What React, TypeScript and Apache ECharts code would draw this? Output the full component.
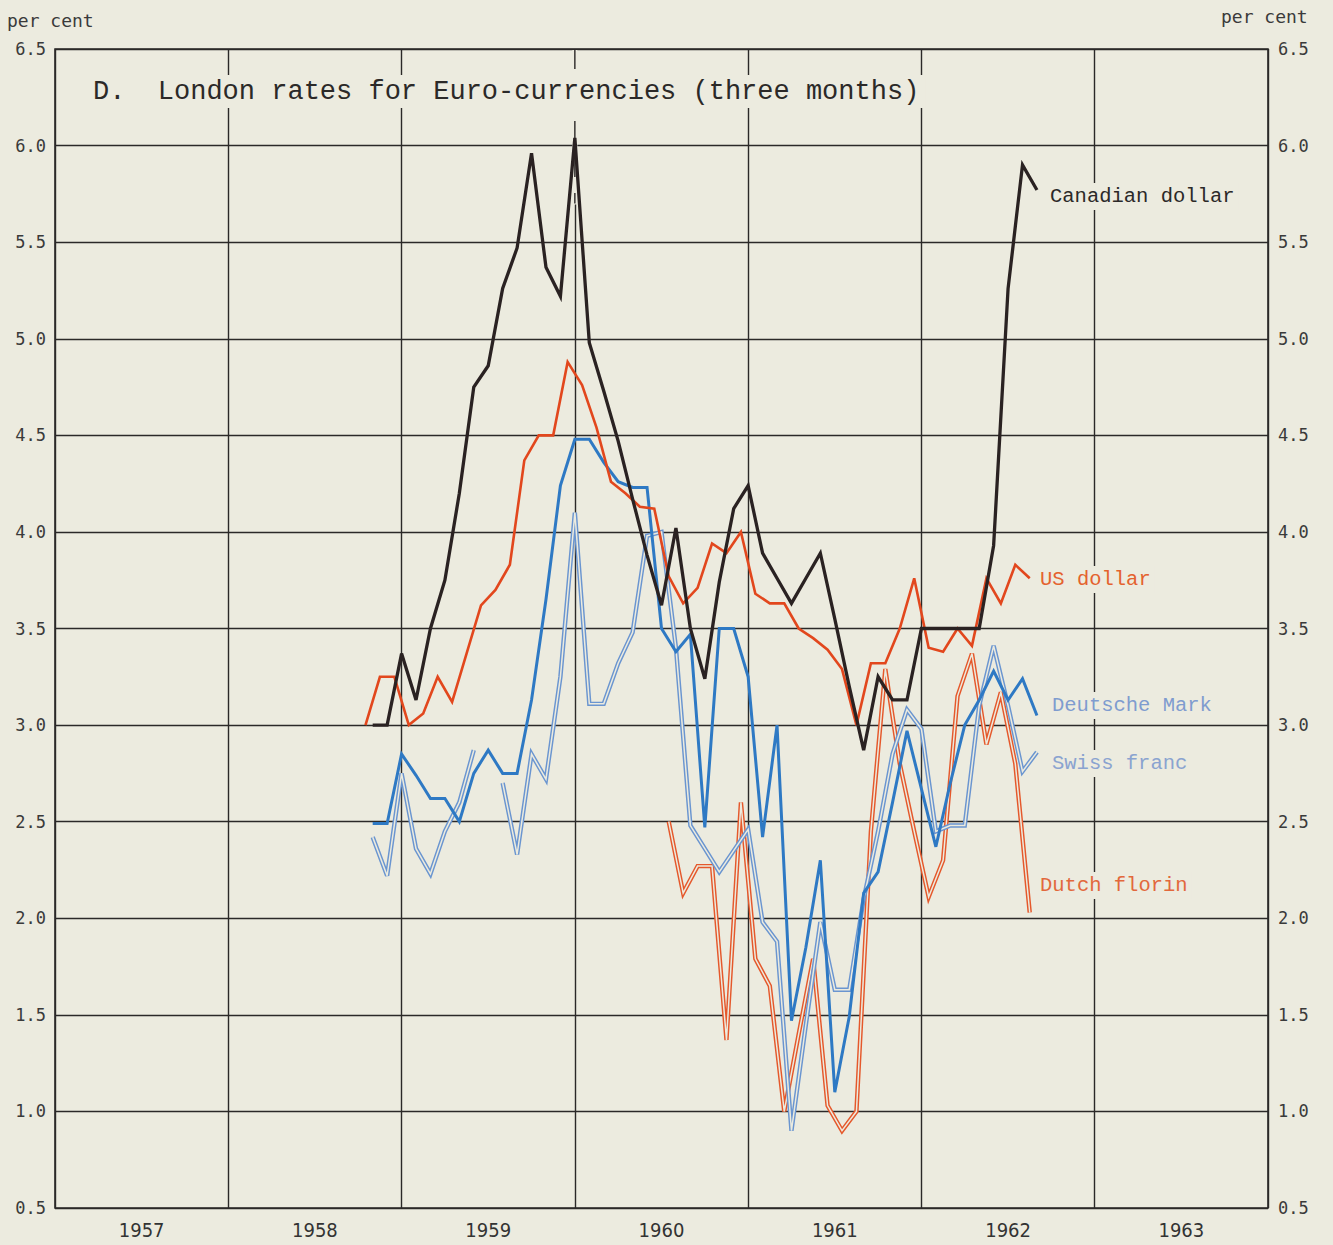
import React, { useEffect, useRef } from "react";
import * as echarts from "echarts";

// ---- data (months counted from January 1958; plotted at month ends) ----
const yearLabels = ["1957", "1958", "1959", "1960", "1961", "1962", "1963"];

const canadianStart = 10;
const canadianDollar = [
  3.0, 3.0, 3.37, 3.13, 3.5, 3.75, 4.2, 4.75, 4.86, 5.26, 5.47, 5.96, 5.37, 5.22,
  6.04, 4.98, 4.73, 4.47, 4.17, 3.88, 3.62, 4.02, 3.5, 3.24, 3.74, 4.12, 4.24,
  3.89, 3.76, 3.63, 3.76, 3.89, 3.55, 3.2, 2.87, 3.25, 3.13, 3.13, 3.5, 3.5, 3.5,
  3.5, 3.5, 3.93, 5.26, 5.9, 5.77,
];

const usStart = 9.5;
const usDollar = [
  3.0, 3.25, 3.25, 3.0, 3.06, 3.25, 3.12, 3.37, 3.62, 3.7, 3.83, 4.37, 4.5, 4.5,
  4.88, 4.76, 4.54, 4.26, 4.2, 4.13, 4.12, 3.77, 3.63, 3.71, 3.94, 3.89, 4.0,
  3.68, 3.63, 3.63, 3.5, 3.45, 3.39, 3.29, 3.0, 3.32, 3.32, 3.5, 3.76, 3.4, 3.38,
  3.5, 3.41, 3.76, 3.63, 3.83, 3.76,
];

const markStart = 10;
const deutscheMark = [
  2.49, 2.49, 2.85, 2.74, 2.62, 2.62, 2.5, 2.75, 2.87, 2.75, 2.75, 3.13, 3.65,
  4.24, 4.48, 4.48, 4.36, 4.26, 4.23, 4.23, 3.5, 3.38, 3.47, 2.47, 3.5, 3.5, 3.25,
  2.42, 3.0, 1.47, 1.85, 2.3, 1.1, 1.49, 2.13, 2.24, 2.6, 2.97, 2.67, 2.37, 2.7,
  3.0, 3.13, 3.28, 3.13, 3.24, 3.05,
];

const swissStart = 10;
const swissFranc: (number | null)[] = [
  2.42, 2.22, 2.75, 2.36, 2.23, 2.45, 2.6, 2.87, null, 2.7, 2.33, 2.85, 2.72,
  3.25, 4.1, 3.11, 3.11, 3.32, 3.48, 3.98, 4.0, 3.4, 2.48, 2.36, 2.24, 2.35, 2.46,
  1.98, 1.88, 0.9, 1.45, 1.98, 1.63, 1.63, 2.1, 2.45, 2.85, 3.08, 2.98, 2.45,
  2.48, 2.48, 3.1, 3.41, 3.1, 2.76, 2.86,
];

const florinStart = 30.5;
const dutchFlorin = [
  2.5, 2.13, 2.27, 2.27, 1.37, 2.6, 1.79, 1.65, 1.0, 1.4, 1.79, 1.03, 0.9, 1.0,
  2.45, 3.29, 2.8, 2.45, 2.11, 2.3, 3.15, 3.37, 2.9, 3.17, 2.8, 2.03,
];

const BG = "#ecebdf";
const INK = "#2b2928";

function toPoints(start: number, values: (number | null)[]) {
  return values.map((v, i) => [1958 + (start + i) / 12, v === null ? "-" : v]);
}

function lineSeries(name: string, data: any[], color: string, width: number, z: number) {
  return {
    name,
    type: "line",
    xAxisIndex: 0,
    yAxisIndex: 0,
    data,
    symbol: "none",
    connectNulls: false,
    z,
    lineStyle: { color, width, cap: "butt", join: "miter" },
  };
}

export default function App() {
  const ref = useRef<HTMLDivElement>(null);

  useEffect(() => {
    document.body.style.margin = "0";
    const chart = echarts.init(ref.current!, null, { renderer: "svg" });

    const tickFont = "'DejaVu Sans Mono', monospace";
    const mono = "'Liberation Mono', 'Courier New', monospace";

    const option: any = {
      animation: false,
      backgroundColor: BG,
      grid: {
        left: 55,
        right: 65,
        top: 49,
        bottom: 37,
        show: true,
        borderColor: INK,
        borderWidth: 1.6,
      },
      xAxis: [
        {
          type: "value",
          min: 1957,
          max: 1964,
          interval: 1,
          axisLabel: { show: false },
          axisTick: { show: false },
          axisLine: { show: false },
          splitLine: { show: true, lineStyle: { color: INK, width: 1.4 } },
        },
        {
          type: "category",
          data: yearLabels,
          position: "bottom",
          boundaryGap: true,
          axisLine: { show: false },
          axisTick: { show: false },
          splitLine: { show: false },
          axisLabel: {
            color: "#333",
            fontSize: 20,
            fontFamily: "'DejaVu Sans Condensed', 'Roboto', sans-serif",
            margin: 12,
          },
        },
      ],
      yAxis: [
        {
          type: "value",
          min: 0.5,
          max: 6.5,
          interval: 0.5,
          position: "left",
          axisLine: { show: false },
          axisTick: { show: false },
          splitLine: { show: true, lineStyle: { color: INK, width: 1.4 } },
          axisLabel: {
            formatter: (v: number) => v.toFixed(1),
            color: "#3a3a3a",
            fontSize: 17,
            fontFamily: tickFont,
            margin: 9,
          },
        },
        {
          type: "value",
          min: 0.5,
          max: 6.5,
          interval: 0.5,
          position: "right",
          axisLine: { show: false },
          axisTick: { show: false },
          splitLine: { show: false },
          axisLabel: {
            formatter: (v: number) => v.toFixed(1),
            color: "#3a3a3a",
            fontSize: 17,
            fontFamily: tickFont,
            margin: 10,
          },
        },
      ],
      series: [
        lineSeries("Dutch florin", toPoints(florinStart, dutchFlorin), "#e5582b", 4.4, 2),
        lineSeries("Dutch florin inner", toPoints(florinStart, dutchFlorin), BG, 1.5, 3),
        lineSeries("Swiss franc", toPoints(swissStart, swissFranc), "#6a95d0", 4.4, 4),
        lineSeries("Swiss franc inner", toPoints(swissStart, swissFranc), BG, 1.5, 5),
        lineSeries("Deutsche Mark", toPoints(markStart, deutscheMark), "#2e79c4", 3, 6),
        lineSeries("US dollar", toPoints(usStart, usDollar), "#e2471d", 2.6, 7),
        lineSeries("Canadian dollar", toPoints(canadianStart, canadianDollar), "#2a2222", 3.3, 8),
      ],
    };

    chart.setOption(option);

    // broken (dashed) 1960 grid line near the top, as drawn in the original
    const x1960 = chart.convertToPixel({ xAxisIndex: 0 }, 1960) as number;
    const yTop = chart.convertToPixel({ yAxisIndex: 0 }, 6.5) as number;
    const yCut = chart.convertToPixel({ yAxisIndex: 0 }, 5.7) as number;

    const label = (text: string, left: number, top: number, fill: string) => ({
      type: "text",
      left,
      top,
      z: 20,
      style: {
        text,
        font: `20.5px ${mono}`,
        fill,
        backgroundColor: BG,
        padding: [3, 4],
      },
    });

    chart.setOption({
      graphic: [
        {
          type: "rect",
          z: 1,
          silent: true,
          shape: { x: x1960 - 2.5, y: yTop + 1, width: 5, height: yCut - yTop },
          style: { fill: BG },
        },
        {
          type: "line",
          z: 1,
          silent: true,
          shape: { x1: x1960, y1: yTop, x2: x1960, y2: yCut },
          style: { stroke: INK, lineWidth: 1.4, lineDash: [20, 16] },
        },
        {
          type: "text",
          left: 87,
          top: 75,
          z: 20,
          style: {
            text: "D.  London rates for Euro-currencies (three months)",
            font: `27px ${mono}`,
            fill: INK,
            backgroundColor: BG,
            padding: [3, 6],
          },
        },
        {
          type: "text",
          left: 7,
          top: 11,
          style: { text: "per cent", font: `18px ${tickFont}`, fill: "#3a3a3a" },
        },
        {
          type: "text",
          left: 1221,
          top: 7,
          style: { text: "per cent", font: `18px ${tickFont}`, fill: "#3a3a3a" },
        },
        label("Canadian dollar", 1046, 183, INK),
        label("US dollar", 1036, 566, "#e4622e"),
        label("Deutsche Mark", 1048, 692, "#7f9ccf"),
        label("Swiss franc", 1048, 750, "#8aa3d0"),
        label("Dutch florin", 1036, 872, "#e2683c"),
      ],
    });

    return () => chart.dispose();
  }, []);

  return <div ref={ref} style={{ width: 1333, height: 1245 }} />;
}
